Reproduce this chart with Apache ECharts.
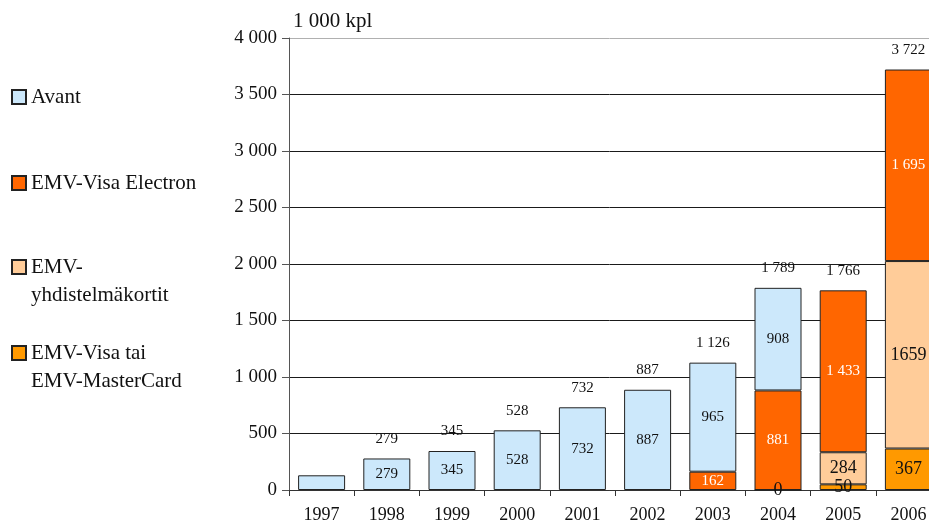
<!DOCTYPE html>
<html>
<head>
<meta charset="utf-8">
<script src="https://cdn.jsdelivr.net/npm/echarts@6/dist/echarts.min.js"></script>
<style>
  html, body { margin: 0; padding: 0; background: #fff; overflow: hidden; }
  #chart { width: 929px; height: 531px; }
</style>
</head>
<body>
<div id="chart"></div>
<script>
const YEARS = ['1997', '1998', '1999', '2000', '2001', '2002', '2003', '2004', '2005', '2006'];
const VISA_MC = [null, null, null, null, null, null, null, 0, 50, 367];
const YHDISTELMA = [null, null, null, null, null, null, null, null, 284, 1659];
const ELECTRON = [null, null, null, null, null, null, 162, 881, 1433, 1695];
const AVANT = [130, 279, 345, 528, 732, 887, 965, 908, null, null];
const TOTALS = [null, 279, 345, 528, 732, 887, 1126, 1789, 1766, 3722];
const UNLABELED_YEARS = ['1997'];

const FONT = 'Liberation Serif';

// thousands with a space, like the source
function fmt(v, sep) {
  if (v === null || v === undefined) return '';
  const s = String(v);
  return sep ? s.replace(/\B(?=(\d{3})+(?!\d))/g, ' ') : s;
}

const SERIES = [
  { name: 'EMV-Visa tai EMV-MasterCard', legend: '\nEMV-Visa tai\nEMV-MasterCard', data: VISA_MC, color: '#FF9900', labelColor: '#111', labelSize: 18, sep: true, top: 311 },
  { name: 'EMV-yhdistelmäkortit', legend: '\nEMV-\nyhdistelmäkortit', data: YHDISTELMA, color: '#FFCC99', labelColor: '#111', labelSize: 18, sep: false, top: 225 },
  { name: 'EMV-Visa Electron', legend: 'EMV-Visa Electron', data: ELECTRON, color: '#FF6600', labelColor: '#fff', labelSize: 15, sep: true, top: 169 },
  { name: 'Avant', legend: 'Avant', data: AVANT, color: '#CCE8FB', labelColor: '#111', labelSize: 15, sep: true, top: 83 }
];

const chart = echarts.init(document.getElementById('chart'));

const barSeries = SERIES.map(s => ({
  name: s.name,
  type: 'bar',
  stack: 'kortit',
  barWidth: 47,
  data: s.data,
  itemStyle: { color: s.color, borderColor: '#222', borderWidth: 1 },
  label: {
    show: true,
    position: 'inside',
    color: s.labelColor,
    fontFamily: FONT,
    fontSize: s.labelSize,
    formatter: p => UNLABELED_YEARS.includes(p.name) ? '' : fmt(p.value, s.sep)
  }
}));

// invisible zero-height bar on top of each stack carries the total
barSeries.push({
  name: 'Yhteensä',
  type: 'bar',
  stack: 'kortit',
  barWidth: 47,
  data: TOTALS.map(() => 0),
  itemStyle: { color: 'transparent', borderWidth: 0 },
  label: {
    show: true,
    position: 'top',
    distance: 12,
    color: '#111',
    fontFamily: FONT,
    fontSize: 15,
    formatter: p => fmt(TOTALS[p.dataIndex], true)
  }
});

chart.setOption({
  animation: false,
  textStyle: { fontFamily: FONT },
  grid: { left: 289, width: 652, top: 38, bottom: 41, containLabel: false, outerBoundsMode: 'none' },
  legend: SERIES.map(s => ({
    orient: 'vertical',
    left: 11,
    top: s.top,
    padding: 0,
    icon: 'rect',
    itemWidth: 14,
    itemHeight: 14,
    selectedMode: false,
    data: [s.name],
    formatter: () => s.legend,
    textStyle: { fontFamily: FONT, fontSize: 21, lineHeight: 28, color: '#111' }
  })),
  xAxis: {
    type: 'category',
    data: YEARS,
    axisLine: { lineStyle: { color: '#333', width: 1 } },
    axisTick: { show: true, length: 6, lineStyle: { color: '#333' } },
    axisLabel: { color: '#111', fontFamily: FONT, fontSize: 18, margin: 16 }
  },
  yAxis: {
    type: 'value',
    min: 0,
    max: 4000,
    interval: 500,
    name: '1 000 kpl',
    nameLocation: 'end',
    nameGap: 6,
    nameTextStyle: { align: 'left', color: '#111', fontFamily: FONT, fontSize: 21, padding: [0, 0, 0, 4] },
    axisLine: { show: true, lineStyle: { color: '#555' } },
    axisTick: { show: true, length: 7, lineStyle: { color: '#555' } },
    axisLabel: { color: '#111', fontFamily: FONT, fontSize: 19, margin: 12, formatter: v => fmt(v, true) },
    splitLine: {
      show: true,
      lineStyle: { color: ['#1a1a1a', '#1a1a1a', '#1a1a1a', '#1a1a1a', '#1a1a1a', '#1a1a1a', '#1a1a1a', '#1a1a1a', '#b0b0b0'], width: 1 }
    }
  },
  series: barSeries
});
</script>
</body>
</html>
